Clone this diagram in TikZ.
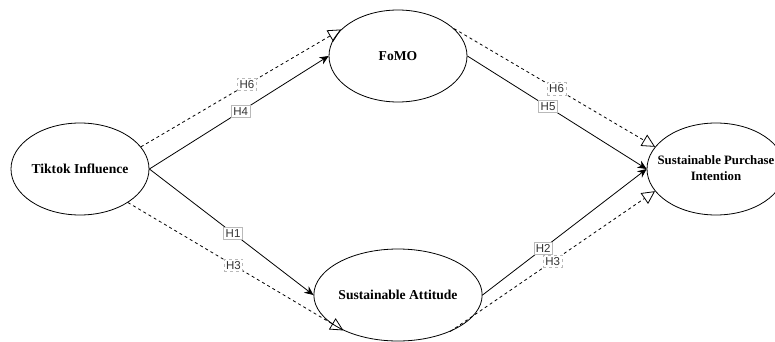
\documentclass[tikz,border=0pt]{standalone}
\usepackage{fontspec}
\setmainfont{Liberation Serif}
\newfontfamily\hlabelfont{Liberation Sans}
\usetikzlibrary{arrows.meta,shapes.geometric}

\begin{document}
\begin{tikzpicture}[x=1pt, y=-1pt,
    construct/.style={draw, ellipse, line width=0.8pt, minimum width=138pt, minimum height=92pt,
        inner sep=0pt, font=\fontsize{13.6}{16.5}\selectfont\bfseries},
    direct/.style={-{Stealth[length=9pt,width=8pt]}, line width=0.8pt},
    indirect/.style={-{Triangle[open,length=13pt,width=13pt]}, line width=0.8pt, dash pattern=on 3pt off 3pt},
    hyp/.style={draw=gray!55, fill=white, inner sep=2pt, text=black!80,
        font=\hlabelfont\fontsize{11.5}{13}\selectfont}]
    % 画布范围
    \useasboundingbox (0,0) rectangle (775,342);
    \clip (0,0) rectangle (775,342);

    % 四个变量
    \node[construct] (tiktok) at (80,169) {Tiktok Influence};
    \node[construct] (fomo) at (398,56) {FoMO};
    \node[construct] (attitude) at (398,295) {Sustainable Attitude};
    \node[construct, font=\fontsize{12.8}{16.5}\selectfont\bfseries] (intention) at (716,169)
        {\makebox[0pt]{\begin{tabular}{@{}c@{}}Sustainable Purchase\\Intention\end{tabular}}};

    % 直接路径 (实线)
    \draw[direct] (tiktok.east) -- (fomo.west) node[hyp, pos=0.51] (h4) {H4};
    \draw[direct] (tiktok.east) -- (attitude.west) node[hyp, pos=0.51] (h1) {H1};
    \draw[direct] (fomo.east) -- (intention.west) node[hyp, pos=0.45] (h5) {H5};
    \draw[direct] (attitude.east) -- (intention.west) node[hyp, pos=0.37] (h2) {H2};

    % 中介路径 (虚线)
    \draw[indirect] (tiktok.20) -- (fomo.155) node[hyp, pos=0.53] (h6a) {H6};
    \draw[indirect] (fomo.26) -- (intention.160) node[hyp, pos=0.51] (h6b) {H6};
    \draw[indirect] (tiktok.-35) -- (attitude.213) node[hyp, pos=0.49] (h3a) {H3};
    \draw[indirect] (attitude.-35) -- (intention.200) node[hyp, pos=0.5] (h3b) {H3};
\end{tikzpicture}
\end{document}
